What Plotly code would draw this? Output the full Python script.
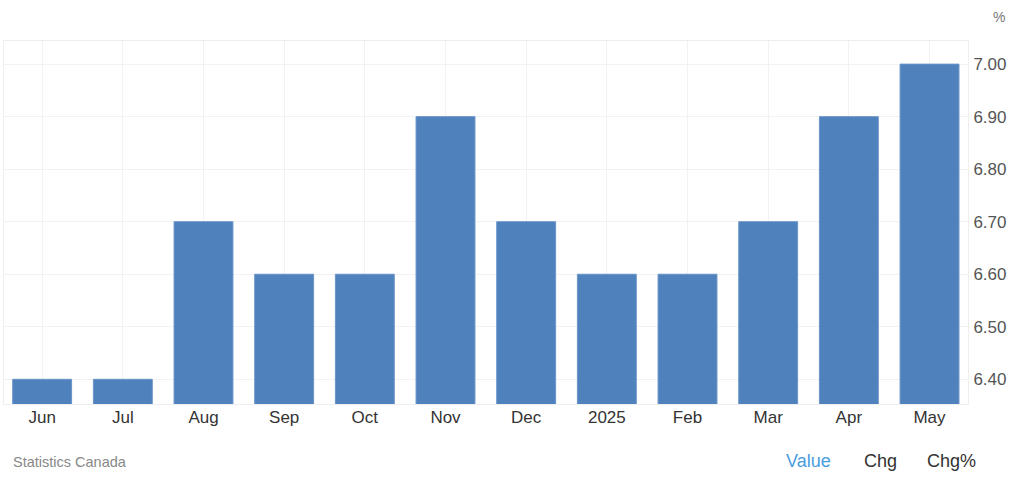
import plotly.graph_objects as go

categories = ["Jun", "Jul", "Aug", "Sep", "Oct", "Nov", "Dec", "2025", "Feb", "Mar", "Apr", "May"]
values = [6.4, 6.4, 6.7, 6.6, 6.6, 6.9, 6.7, 6.6, 6.6, 6.7, 6.9, 7.0]
y_ticks = [6.4, 6.5, 6.6, 6.7, 6.8, 6.9, 7.0]
y_tick_labels = ["6.40", "6.50", "6.60", "6.70", "6.80", "6.90", "7.00"]

W, H = 1024, 482
ML, MR, MT, MB = 4, 56, 41, 78

fig = go.Figure()
fig.add_trace(go.Bar(
    x=list(range(len(categories))), y=values,
    marker=dict(color="#4f81bd", line=dict(color="#6a94c8", width=1)),
    width=0.73,
))

fig.update_layout(
    width=W, height=H,
    margin=dict(l=ML, r=MR, t=MT, b=MB, autoexpand=False),
    paper_bgcolor="white", plot_bgcolor="white",
    showlegend=False,
    font=dict(family="Arial, Liberation Sans, sans-serif"),
    xaxis=dict(
        tickmode="array", tickvals=list(range(len(categories))), ticktext=categories,
        range=[-0.473, 11.477],
        showgrid=True, gridcolor="#f2f2f2", gridwidth=1,
        showline=True, linecolor="#eeeeee", mirror=True,
        ticks="", tickfont=dict(size=17, color="#333333"),
        zeroline=False, automargin=False, ticklabelstandoff=-2,
    ),
    yaxis=dict(
        side="right", range=[6.353, 7.044],
        tickmode="array", tickvals=y_ticks, ticktext=y_tick_labels,
        showgrid=True, gridcolor="#f2f2f2", gridwidth=1,
        showline=True, linecolor="#eeeeee", mirror=True,
        ticks="", tickfont=dict(size=17, color="#555555"),
        zeroline=False, ticklabelstandoff=1, automargin=False,
    ),
)

# annotations placed by pixel position, converted to paper coordinates
pw, ph = W - ML - MR, H - MT - MB
def ann(text, px, py, size, color, anchor="center"):
    fig.add_annotation(text=text, x=(px - ML) / pw, y=(H - MB - py) / ph,
                       xref="paper", yref="paper", showarrow=False,
                       xanchor=anchor, yanchor="middle",
                       font=dict(size=size, color=color))

ann("%", 999, 17, 14, "#777777")
ann("Statistics Canada", 11, 462, 14.5, "#888888", anchor="left")
ann("Value", 808, 461, 18, "#4a9de0")
ann("Chg", 880, 461, 18, "#333333")
ann("Chg%", 951, 461, 18, "#333333")

fig.write_html("out.html", config={"displayModeBar": False},
               post_script="document.body.style.margin='0px';")
